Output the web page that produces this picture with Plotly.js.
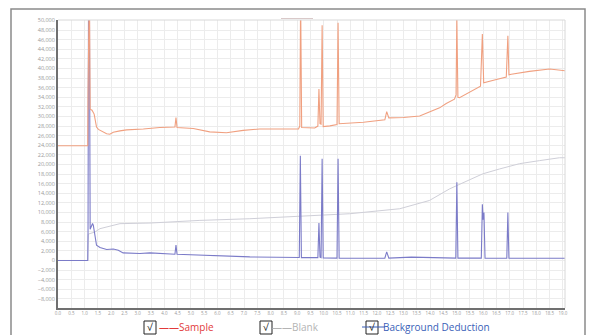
<!DOCTYPE html>
<html><head><meta charset="utf-8">
<script src="https://cdn.plot.ly/plotly-3.0.1.min.js"></script>
<style>html,body{margin:0;padding:0;background:#fff}#chart{width:595px;height:335px}</style>
</head><body><div id="chart"></div>
<script>
// ---- data (retention time in min, signal) ----
const sampleX = [0, 1.12, 1.13, 1.15, 1.18, 1.21, 1.28, 1.36, 1.45, 1.52, 1.70, 1.83, 1.95, 2.08, 2.33, 2.58, 3.21, 3.83, 4.40, 4.44, 4.48, 5.09, 5.71, 6.34, 6.97, 7.59, 7.97, 9.05, 9.10, 9.13, 9.17, 9.66, 9.78, 9.82, 9.86, 9.90, 9.94, 9.98, 10.23, 10.50, 10.54, 10.58, 11.5, 12.30, 12.37, 12.45, 13.0, 13.61, 14.36, 14.61, 14.92, 14.98, 15.01, 15.05, 15.11, 15.5, 15.90, 15.97, 16.02, 16.5, 16.87, 16.93, 16.97, 17.06, 17.74, 18.50, 19.1];
const sampleY = [23900, 23900, 35000, 58000, 58000, 31500, 31300, 30500, 27800, 27300, 26800, 26400, 26300, 26700, 27000, 27200, 27400, 27700, 27800, 29800, 27700, 27500, 26800, 26600, 27100, 27400, 27400, 27400, 28000, 55000, 27700, 27600, 28000, 35700, 28500, 28400, 49000, 27900, 28050, 28300, 49500, 28500, 28800, 29300, 31000, 29700, 29800, 30100, 31800, 32700, 33600, 34500, 50500, 34000, 33900, 35000, 36300, 47200, 37000, 37700, 38200, 46800, 38700, 38800, 39400, 39900, 39500];

const blankX = [0, 1.12, 1.14, 1.39, 1.58, 2.33, 3.46, 5.34, 7.22, 9.10, 10.98, 12.86, 13.98, 14.74, 15.98, 16.62, 17.37, 18.12, 18.87, 19.1];
const blankY = [0, 0, 5500, 5930, 6630, 7670, 7800, 8350, 8700, 9200, 9740, 10780, 12500, 14930, 18040, 19070, 20170, 20800, 21400, 21400];

const deductX = [0, 1.12, 1.13, 1.15, 1.18, 1.21, 1.30, 1.33, 1.45, 1.58, 1.83, 2.08, 2.27, 2.45, 3.08, 3.46, 4.40, 4.44, 4.48, 5.34, 7.22, 9.08, 9.12, 9.16, 9.60, 9.78, 9.82, 9.86, 9.90, 9.94, 9.98, 10.50, 10.54, 10.58, 11.5, 12.30, 12.37, 12.45, 13.3, 14.97, 15.01, 15.05, 15.93, 15.97, 16.00, 16.03, 16.07, 16.89, 16.93, 16.97, 18.0, 19.1];
const deductY = [0, 0, 5900, 58000, 58000, 6500, 7700, 7300, 3170, 2700, 2280, 2400, 2140, 1580, 1450, 1580, 1300, 3200, 1300, 1100, 750, 620, 21800, 600, 550, 600, 7800, 700, 600, 21200, 550, 500, 21200, 500, 480, 500, 1800, 500, 700, 500, 16300, 500, 500, 11700, 8500, 10000, 500, 480, 10000, 480, 480, 480];

const legendLabels = ["——Sample", "——Blank", "Background Deduction"];
const checkMark = "√";

// ---- layout helpers (pixel -> paper) ----
const L = 58, R = 565, T = 20, B = 308;
const fx = p => (p - L) / (R - L);
const fy = p => (B - p) / (B - T);

const traces = [
  {x: blankX, y: blankY, type: 'scatter', mode: 'lines', line: {color: '#cfcfd8', width: 1}, hoverinfo: 'skip'},
  {x: deductX, y: deductY, type: 'scatter', mode: 'lines', line: {color: '#7b7bc8', width: 1.1}, hoverinfo: 'skip'},
  {x: sampleX, y: sampleY, type: 'scatter', mode: 'lines', line: {color: '#f0a080', width: 1.1}, hoverinfo: 'skip'}
];

function box(x0, y0, x1, y1, color, w) {
  return {type: 'rect', xref: 'paper', yref: 'paper', x0: fx(x0), x1: fx(x1), y0: fy(y1), y1: fy(y0),
          line: {color: color, width: w}, fillcolor: 'rgba(0,0,0,0)', layer: 'above'};
}
function hline(x0, x1, y, color, w) {
  return {type: 'line', xref: 'paper', yref: 'paper', x0: fx(x0), x1: fx(x1), y0: fy(y), y1: fy(y),
          line: {color: color, width: w}, layer: 'above'};
}

const LY = 327; // legend row centre (px)
const shapes = [
  box(11, 9, 585, 345, '#8a8a8a', 1.5),           // outer frame
  {type: 'line', xref: 'paper', yref: 'paper', x0: 0, x1: 1, y0: 1, y1: 1, line: {color: '#d8d8d8', width: 1}},
  {type: 'line', xref: 'paper', yref: 'paper', x0: 1, x1: 1, y0: 0, y1: 1, line: {color: '#d8d8d8', width: 1}},
  hline(281, 313, 18.5, '#d9c9c9', 1),            // small title dash
  box(144, LY - 6, 156, LY + 7, '#222', 1),
  box(260, LY - 6, 272, LY + 7, '#222', 1),
  box(366, LY - 6, 378, LY + 7, '#222', 1),
  hline(362, 385, LY, '#3a5fb8', 1)
];

const fnt = 'Open Sans, Lato, sans-serif';
const ann = (x, y, text, color, size, anchor) => ({xref: 'paper', yref: 'paper', x: fx(x), y: fy(y), text: text,
  showarrow: false, xanchor: anchor || 'left', yanchor: 'middle', borderpad: 0,
  font: {family: fnt, size: size, color: color}});

const annotations = [
  ann(150, LY, checkMark, '#111', 10, 'center'),
  ann(266, LY, checkMark, '#111', 10, 'center'),
  ann(372, LY, checkMark, '#111', 10, 'center'),
  ann(158, LY, legendLabels[0], '#e23a3a', 10),
  ann(271, LY, legendLabels[1], '#b4b4b4', 10),
  ann(382, LY, legendLabels[2], '#3a5fb8', 10)
];

const layout = {
  width: 595, height: 335,
  margin: {l: L, r: 595 - R, t: T, b: 335 - B, pad: 0},
  paper_bgcolor: '#fff', plot_bgcolor: '#fff',
  showlegend: false,
  xaxis: {range: [0, 19.08], tick0: 0, dtick: 0.5, tickformat: '.1f', showgrid: true, gridcolor: '#ececec', gridwidth: 1,
          showline: true, linecolor: '#707070', linewidth: 2, zeroline: false, ticks: '',
          tickfont: {family: fnt, size: 4.5, color: '#9a9a9a'}, fixedrange: true},
  yaxis: {range: [-9900, 50100], tick0: 0, dtick: 2000, tickformat: ',d', showgrid: true, gridcolor: '#ececec', gridwidth: 1,
          showline: true, linecolor: '#707070', linewidth: 2, zeroline: false, ticks: '',
          tickfont: {family: fnt, size: 5.5, color: '#9a9a9a'}, fixedrange: true},
  shapes: shapes,
  annotations: annotations
};

Plotly.newPlot('chart', traces, layout, {displayModeBar: false, staticPlot: true});
</script>
</body></html>
